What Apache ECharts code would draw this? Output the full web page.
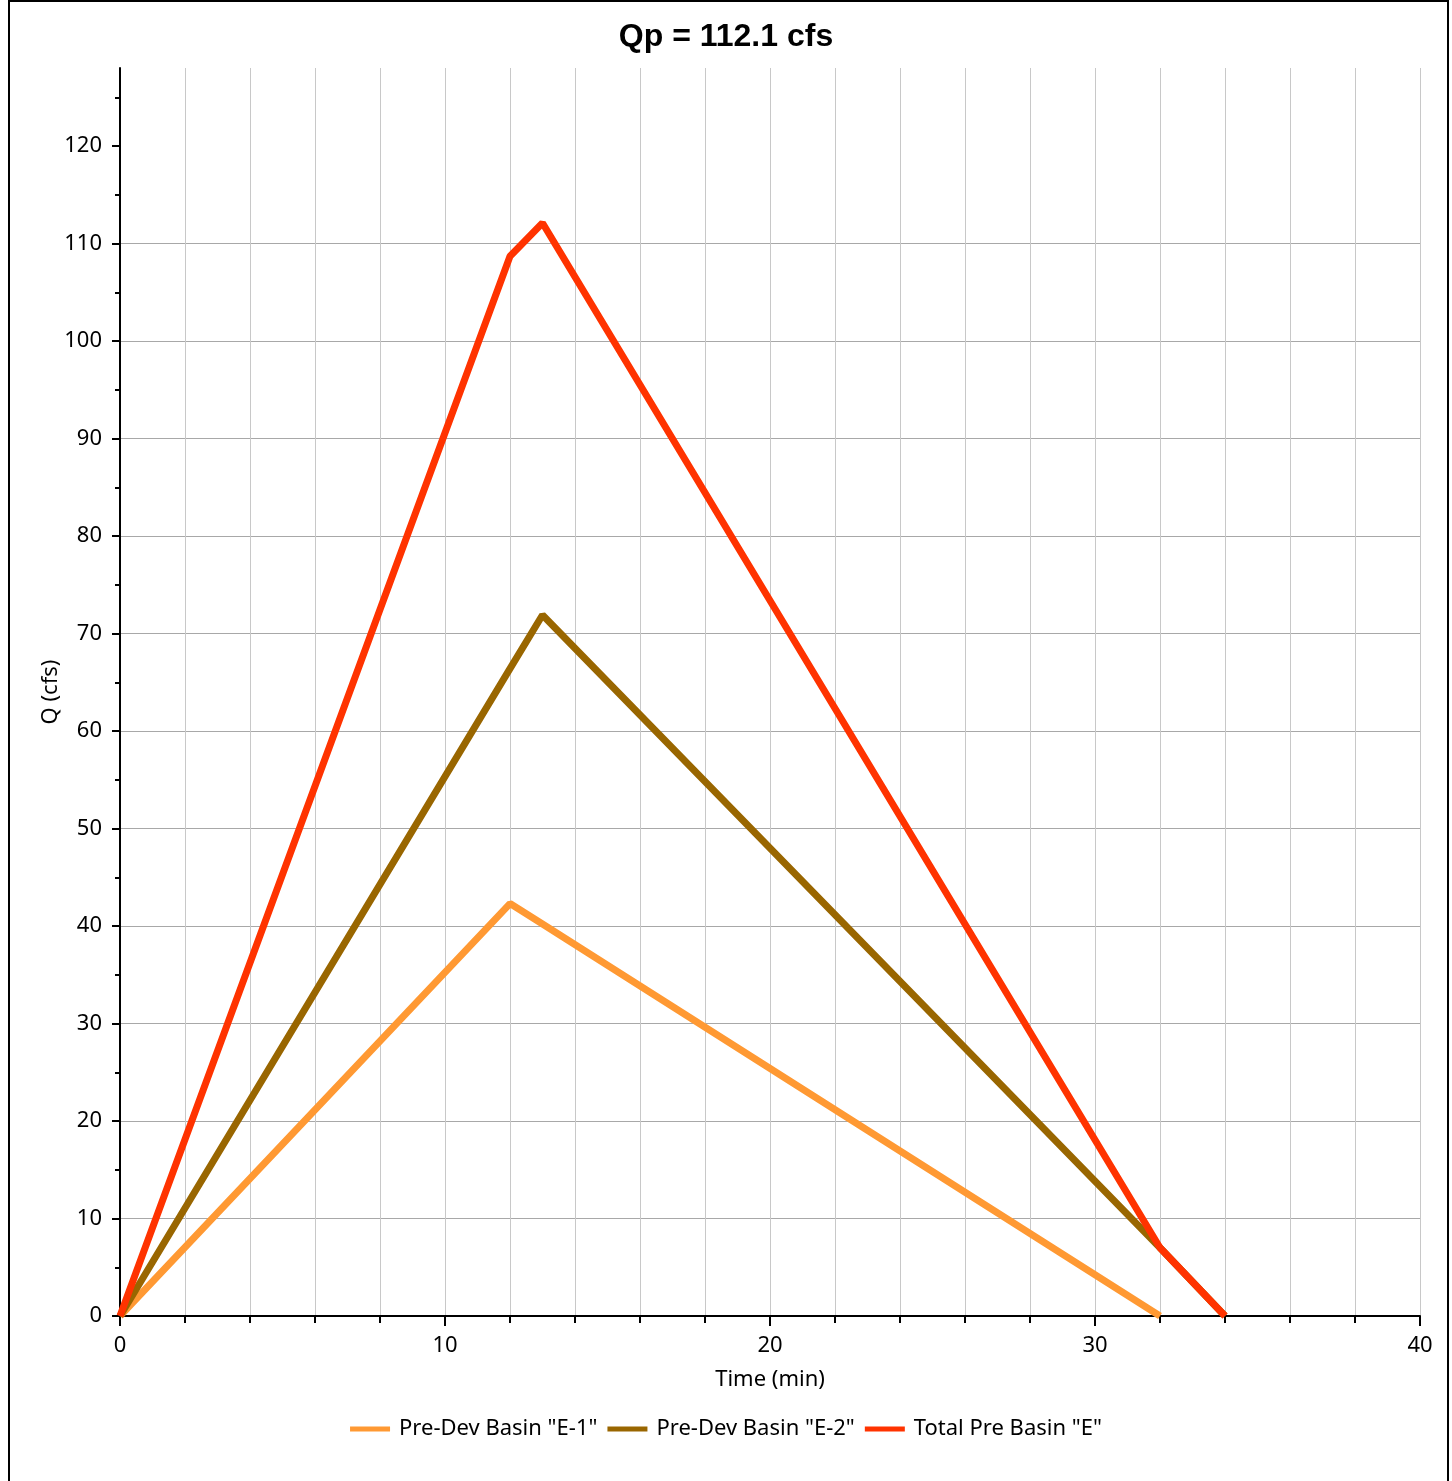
<!DOCTYPE html>
<html>
<head>
<meta charset="utf-8">
<script src="https://cdn.jsdelivr.net/npm/echarts@6/dist/echarts.min.js"></script>
<style>
html,body{margin:0;padding:0;background:#fff;}
#frame{position:absolute;left:8px;top:0;width:1441px;height:1500px;border:2px solid #000;box-sizing:border-box;}
#chart{position:absolute;left:0;top:0;width:1452px;height:1481px;}
</style>
</head>
<body>
<div id="frame"></div>
<div id="chart"></div>
<script>
const titleText = 'Qp = 112.1 cfs';
const seriesNames = ['Pre-Dev Basin "E-1"', 'Pre-Dev Basin "E-2"', 'Total Pre Basin "E"'];
const seriesColors = ['#FF9933', '#996600', '#FF3300'];
const yTicks = [0, 10, 20, 30, 40, 50, 60, 70, 80, 90, 100, 110, 120];
const e1Time = [0, 12, 13, 32];
const e1Flow = [0, 42.3, 40.2, 0];
const e2Time = [0, 12, 13, 32, 34];
const e2Flow = [0, 66.4, 71.9, 7.0, 0];
const totTime = [0, 12, 13, 32, 34];
const totFlow = [0, 108.7, 112.1, 7.0, 0];

const zip = (t, q) => t.map((v, i) => [v, q[i]]);
const font = 'Noto Sans';
const chart = echarts.init(document.getElementById('chart'), null, {renderer: 'canvas'});
chart.setOption({
  animation: false,
  backgroundColor: 'transparent',
  title: {
    text: titleText, left: 'center', top: 16,
    textStyle: {fontFamily: 'Liberation Sans', fontWeight: 'bold', fontSize: 32, color: '#000'}
  },
  grid: {left: 120, right: 32, top: 68, bottom: 165},
  legend: {
    bottom: 36, left: 'center', itemWidth: 40, itemHeight: 5, itemGap: 10, icon: 'rect',
    textStyle: {fontFamily: font, fontSize: 22, color: '#000', padding: [0, 0, 0, 4]},
    data: seriesNames
  },
  xAxis: {
    type: 'value', min: 0, max: 40, interval: 10,
    name: 'Time (min)', nameLocation: 'middle', nameGap: 53, nameMoveOverlap: false,
    nameTextStyle: {fontFamily: font, fontSize: 22, color: '#000'},
    axisLine: {show: true, onZero: false, lineStyle: {color: '#000', width: 2}},
    axisTick: {show: true, length: 10, lineStyle: {color: '#000', width: 2}},
    minorTick: {show: true, splitNumber: 5, length: 7, lineStyle: {color: '#000', width: 2}},
    axisLabel: {fontFamily: font, fontSize: 22, color: '#000', margin: 19},
    splitLine: {show: true, lineStyle: {color: '#c8c8c8', width: 1}},
    minorSplitLine: {show: true, lineStyle: {color: '#c8c8c8', width: 1}}
  },
  yAxis: {
    type: 'value', min: 0, max: 128, interval: 10,
    name: 'Q (cfs)', nameLocation: 'middle', nameGap: 58, nameRotate: 90, nameMoveOverlap: false,
    nameTextStyle: {fontFamily: font, fontSize: 22, color: '#000'},
    axisLine: {show: true, onZero: false, lineStyle: {color: '#000', width: 2}},
    axisTick: {show: true, length: 8, customValues: yTicks, lineStyle: {color: '#000', width: 2}},
    minorTick: {show: true, splitNumber: 2, length: 5, lineStyle: {color: '#000', width: 2}},
    axisLabel: {fontFamily: font, fontSize: 22, color: '#000', margin: 18, customValues: yTicks},
    splitLine: {show: true, showMaxLine: false, lineStyle: {color: '#a8a8a8', width: 1}}
  },
  series: [
    {name: seriesNames[0], type: 'line', data: zip(e1Time, e1Flow), symbol: 'none',
     color: seriesColors[0], lineStyle: {width: 7, color: seriesColors[0]}, z: 2},
    {name: seriesNames[1], type: 'line', data: zip(e2Time, e2Flow), symbol: 'none',
     color: seriesColors[1], lineStyle: {width: 7, color: seriesColors[1]}, z: 3},
    {name: seriesNames[2], type: 'line', data: zip(totTime, totFlow), symbol: 'none',
     color: seriesColors[2], lineStyle: {width: 7, color: seriesColors[2]}, z: 4}
  ]
});
</script>
</body>
</html>
